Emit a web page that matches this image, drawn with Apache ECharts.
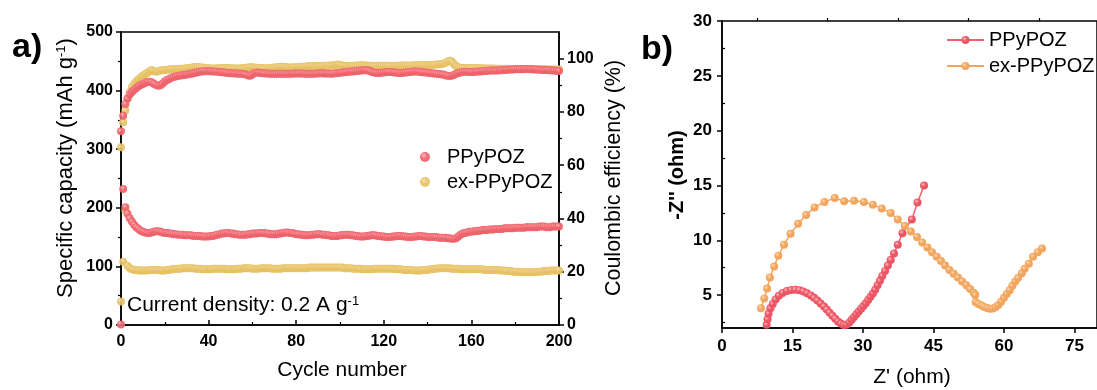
<!DOCTYPE html>
<html><head><meta charset="utf-8">
<script src="https://cdn.jsdelivr.net/npm/echarts@6/dist/echarts.min.js"></script>
<style>html,body{margin:0;padding:0;background:#fff}#c{width:1097px;height:390px}</style>
</head><body><div id="c"></div>
<script>
// ---- Panel a: cycling (index = cycle number 0..200) ----
const capPPy = [1,232,201,190,182,176,171,167,164,161,159,158,157,157,158,159,160,160,159,158,157,
157,156,156,155,155,154,154,154,153,153,
153,153,152,152,152,152,151,151,151,151,
152,152,153,154,155,156,156,157,157,156,
156,155,155,154,154,154,154,155,155,156,
156,156,157,157,157,156,156,155,155,155,
155,156,156,157,158,158,157,157,156,155,
155,154,154,153,153,153,154,154,155,155,
155,154,154,153,153,152,152,152,152,153,
153,154,154,154,153,153,152,152,151,151,
151,152,152,153,153,153,152,152,151,151,
150,150,150,151,151,152,152,152,151,151,
150,150,150,151,151,152,152,151,151,150,
150,150,150,150,149,149,149,149,148,148,
147,147,148,151,154,156,157,158,159,159,
160,160,161,161,162,162,162,163,163,163,
164,164,164,164,165,165,165,165,165,166,
166,166,166,166,167,167,167,167,167,167,
168,168,168,167,167,167,168,168,168,168];
const capEx = [40,108,196,101,97,95,94,94,93,93,93,
93,93,94,94,94,94,94,93,93,93,
94,94,95,95,96,96,96,97,97,97,
97,97,97,96,96,96,95,95,95,95,
95,96,96,96,96,96,96,95,95,95,
95,95,96,96,96,97,97,97,97,96,
96,96,96,97,97,97,97,97,96,96,
96,96,96,97,97,97,97,97,97,97,
97,97,97,97,97,98,98,98,98,98,
98,98,98,98,98,98,98,98,98,98,
98,97,97,97,97,96,96,96,96,95,
95,95,95,95,95,96,96,96,96,96,
96,96,96,96,95,95,95,95,94,94,
94,94,94,93,93,93,93,94,94,94,
95,95,96,96,97,97,97,97,97,97,
96,96,96,96,95,95,95,95,95,95,
95,95,95,95,95,94,94,94,94,94,
94,94,93,93,93,92,92,92,91,91,
91,90,90,90,90,90,90,90,90,91,
91,91,92,92,92,93,93,93,93,93];
const cePPy = [72.7,78.6,83,85,86.5,87.5,88.3,89,89.6,90.1,90.5,
90.9,91.2,91.3,91.1,90.6,90.1,89.8,90.0,90.7,91.4,
92.0,92.4,92.8,93.1,93.3,93.5,93.7,93.8,93.9,94.0,
94.1,94.3,94.5,94.7,94.9,95.1,95.2,95.3,95.3,95.3,
95.3,95.2,95.2,95.1,95.0,94.9,94.8,94.7,94.6,94.5,
94.5,94.4,94.4,94.3,94.3,94.2,94.0,93.7,93.6,94.0,
94.6,94.8,94.7,94.6,94.5,94.4,94.4,94.3,94.3,94.3,
94.3,94.3,94.3,94.3,94.3,94.3,94.3,94.3,94.4,94.4,
94.4,94.4,94.4,94.3,94.3,94.3,94.3,94.3,94.4,94.4,
94.5,94.5,94.4,94.4,94.4,94.3,94.4,94.5,94.6,94.7,
94.8,94.9,95.0,95.1,95.2,95.2,95.3,95.4,95.5,95.5,
95.6,95.6,95.5,95.2,94.9,94.7,94.6,94.6,94.7,94.8,
94.9,95.0,95.0,94.9,94.8,94.7,94.6,94.6,94.7,94.8,
94.9,95.0,95.1,95.2,95.2,95.1,95.0,94.9,94.8,94.7,
94.6,94.5,94.4,94.3,94.2,94.1,94.0,93.8,93.6,93.5,
93.6,93.9,94.3,94.6,94.8,95.0,95.1,95.1,95.0,95.0,
95.0,95.1,95.2,95.2,95.3,95.4,95.4,95.5,95.5,95.5,
95.5,95.5,95.6,95.6,95.7,95.8,95.8,95.9,95.9,96.0,
96.0,96.0,96.0,96.0,96.1,96.1,96.0,96.0,95.9,95.9,
95.8,95.8,95.7,95.7,95.6,95.6,95.5,95.5,95.4,95.4];
const ceEx = [66.7,76.1,80.5,84.9,87.5,89.3,90.5,91.5,92.3,93.0,93.6,
94.1,94.6,95.3,95.7,95.3,95.1,95.3,95.5,95.6,95.7,
95.8,95.9,96.0,96.0,96.1,96.1,96.2,96.2,96.3,96.4,
96.5,96.6,96.8,96.9,96.9,96.8,96.7,96.6,96.5,96.4,
96.3,96.3,96.3,96.4,96.4,96.5,96.5,96.5,96.4,96.4,
96.4,96.3,96.3,96.3,96.4,96.5,96.6,96.7,96.8,96.8,
96.7,96.6,96.5,96.5,96.4,96.4,96.4,96.5,96.6,96.7,
96.8,96.9,97.0,97.0,96.9,96.8,96.7,96.7,96.8,96.8,
96.9,97.0,97.0,97.0,97.1,97.1,97.1,97.2,97.2,97.2,
97.2,97.3,97.3,97.3,97.4,97.4,97.5,97.6,97.8,97.6,
97.4,97.3,97.2,97.2,97.2,97.3,97.3,97.4,97.5,97.5,
97.5,97.4,97.3,97.3,97.2,97.2,97.2,97.3,97.3,97.3,
97.3,97.3,97.2,97.2,97.2,97.3,97.3,97.4,97.4,97.4,
97.4,97.4,97.4,97.5,97.5,97.5,97.5,97.5,97.5,97.6,
97.6,97.6,97.7,97.8,97.8,97.9,98.1,98.4,98.8,99.2,
98.9,98.0,97.2,96.8,96.6,96.5,96.5,96.5,96.5,96.5,
96.5,96.5,96.4,96.4,96.4,96.3,96.3,96.3,96.3,96.3,
96.2,96.2,96.2,96.2,96.2,96.2,96.2,96.1,96.1,96.1,
96.1,96.1,96.1,96.1,96.1,96.1,96.0,96.0,96.0,96.0,
96.0,96.0,96.0,96.0,95.9,95.9,95.9,95.9,95.9,95.9];
const ceTicks = [0,20,40,60,80,100];
const ceMinor = [10,30,50,70,90];

// ---- Panel b: Nyquist plot ----
const eisPPy = [[9.5,2.3],[9.7,2.8],[9.9,3.3],[10.3,3.8],[10.8,4.2],[11.4,4.6],[12.1,4.95],[12.9,5.2],[13.8,5.38],[14.7,5.47],[15.6,5.5],[16.5,5.45],[17.3,5.33],[18.1,5.17],[18.9,4.97],[19.6,4.75],[20.3,4.5],[21,4.24],[21.7,3.96],[22.3,3.68],[22.9,3.4],[23.5,3.12],[24.1,2.85],[24.7,2.6],[25.3,2.4],[25.9,2.27],[26.5,2.3],[27.1,2.5],[27.6,2.75],[28.1,3.0],[28.6,3.25],[29.1,3.5],[29.6,3.75],[30.1,4.0],[30.6,4.25],[31.1,4.55],[31.6,4.85],[32.1,5.15],[32.6,5.5],[33.1,5.9],[33.6,6.3],[34.1,6.75],[34.7,7.2],[35.3,7.7],[35.9,8.2],[36.6,8.8],[37.4,9.6],[38.4,10.65],[40.4,11.9],[41.6,13.45],[43,15.0]];
const eisEx = [[8.3,3.8],[9.0,4.7],[9.6,5.6],[10.2,6.6],[11.1,7.6],[12.0,8.6],[13.2,9.6],[14.6,10.6],[16.2,11.5],[17.9,12.3],[19.7,13.0],[21.8,13.5],[24.0,13.85],[26.0,13.55],[28.1,13.6],[30.2,13.5],[32.1,13.25],[34.0,12.9],[35.9,12.5],[37.4,11.9],[38.9,11.3],[40.2,10.8],[41.5,10.3],[42.6,9.8],[43.7,9.35],[44.7,8.9],[45.7,8.5],[46.6,8.1],[47.5,7.7],[48.4,7.3],[49.3,6.95],[50.2,6.6],[51.1,6.25],[52.0,5.9],[52.8,5.55],[53.6,5.2],[53.9,5.0],[54.0,4.35],[54.6,4.2],[55.2,4.05],[55.8,3.92],[56.4,3.82],[57.0,3.75],[57.6,3.78],[58.2,3.9],[58.8,4.1],[59.4,4.4],[60.0,4.75],[60.6,5.1],[61.2,5.45],[61.8,5.85],[62.4,6.25],[63.0,6.55],[63.8,7.0],[64.4,7.4],[65.3,7.85],[66.2,8.5],[67.2,8.9],[68.1,9.25]];
const zReTicks = [0,15,30,45,60,75];
const zReMinor = [7.5,22.5,37.5,52.5,67.5];
const zImTicks = [5,10,15,20,25,30];
const zImMinor = [2.5,7.5,12.5,17.5,22.5,27.5];

const FF = '"Liberation Sans", Arial, sans-serif';
const RED = '#ef626b', YEL = '#e7c264', ORG = '#f2a55c';
function ball(c0, c1){return {type:'radial',x:0.38,y:0.35,r:0.7,colorStops:[{offset:0,color:c0},{offset:0.45,color:c1},{offset:1,color:c1}]};}
const redBall = ball('#fbb8bb', RED), yelBall = ball('#f6e2ae', YEL);
const ax = {lineStyle:{color:'#000',width:1.5}};
const lab = (sz)=>({color:'#000',fontFamily:FF,fontWeight:'bold',fontSize:sz});
const idx = a => a.map((v,i)=>[i,v]);

const chart = echarts.init(document.getElementById('c'), null, {renderer:'canvas'});
chart.setOption({
  animation:false,
  textStyle:{fontFamily:FF},
  grid:[
    {left:121, top:32, width:438, height:293, show:true, borderColor:'#000', borderWidth:1.5},
    {left:722, top:21, right:-5, height:307, show:true, borderColor:'#000', borderWidth:1.5}
  ],
  xAxis:[
    {gridIndex:0,type:'value',min:0,max:200,interval:40,axisLine:ax,
     axisTick:{inside:true,length:5,lineStyle:{color:'#000',width:1.5}},
     minorTick:{show:true,splitNumber:2,length:3,lineStyle:{color:'#000',width:1.2}},
     axisLabel:Object.assign(lab(16),{margin:9}),splitLine:{show:false}},
    {gridIndex:1,type:'value',min:0,max:79.8,axisLine:ax,
     axisTick:{length:5,customValues:zReTicks,lineStyle:{color:'#000',width:1.5}},
     axisLabel:Object.assign(lab(17),{margin:10,customValues:zReTicks}),splitLine:{show:false}},
    {gridIndex:1,type:'value',min:0,max:79.8,axisLine:{show:false},
     axisTick:{length:3,customValues:zReMinor,lineStyle:{color:'#000',width:1.2}},
     axisLabel:{show:false},splitLine:{show:false}}
  ],
  yAxis:[
    {gridIndex:0,type:'value',min:0,max:500,interval:100,axisLine:Object.assign({show:true},ax),
     axisTick:{length:5,lineStyle:{color:'#000',width:1.5}},
     minorTick:{show:true,splitNumber:2,length:3,lineStyle:{color:'#000',width:1.2}},
     axisLabel:Object.assign(lab(16),{margin:8}),splitLine:{show:false}},
    {gridIndex:0,type:'value',position:'right',min:0,max:110,axisLine:Object.assign({show:true},ax),
     axisTick:{length:5,customValues:ceTicks,lineStyle:{color:'#000',width:1.5}},
     axisLabel:Object.assign(lab(16),{margin:8,customValues:ceTicks}),splitLine:{show:false}},
    {gridIndex:0,type:'value',position:'right',min:0,max:110,axisLine:{show:false},
     axisTick:{length:3,customValues:ceMinor,lineStyle:{color:'#000',width:1.2}},
     axisLabel:{show:false},splitLine:{show:false}},
    {gridIndex:1,type:'value',min:2,max:30,axisLine:Object.assign({show:true},ax),
     axisTick:{length:5,customValues:zImTicks,lineStyle:{color:'#000',width:1.5}},
     axisLabel:Object.assign(lab(17),{margin:10,customValues:zImTicks}),splitLine:{show:false}},
    {gridIndex:1,type:'value',min:2,max:30,axisLine:{show:false},
     axisTick:{length:3,customValues:zImMinor,lineStyle:{color:'#000',width:1.2}},
     axisLabel:{show:false},splitLine:{show:false}}
  ],
  legend:[
    {data:['PPyPOZ','ex-PPyPOZ'],orient:'vertical',left:420,top:147,padding:0,itemWidth:10,itemHeight:10,itemGap:5,
     textStyle:{fontFamily:FF,fontSize:20,color:'#000',padding:[0,0,0,12]}},
    {data:['PPyPOZ ','ex-PPyPOZ '],orient:'vertical',left:946,top:30,padding:0,itemWidth:37,itemHeight:10,itemGap:6,
     textStyle:{fontFamily:FF,fontSize:20,color:'#000'}}
  ],
  series:[
    {name:'ex-PPyPOZ',type:'scatter',xAxisIndex:0,yAxisIndex:0,symbolSize:8,itemStyle:{color:yelBall,opacity:0.92},data:idx(capEx)},
    {name:'PPyPOZ',type:'scatter',xAxisIndex:0,yAxisIndex:0,symbolSize:8,itemStyle:{color:redBall,opacity:0.92},data:idx(capPPy)},
    {name:'ex-PPyPOZ',type:'scatter',xAxisIndex:0,yAxisIndex:1,symbolSize:8,itemStyle:{color:yelBall,opacity:0.92},data:idx(ceEx)},
    {name:'PPyPOZ',type:'scatter',xAxisIndex:0,yAxisIndex:1,symbolSize:8,itemStyle:{color:redBall,opacity:0.92},data:idx(cePPy)},
    {name:'PPyPOZ ',type:'line',xAxisIndex:1,yAxisIndex:3,symbol:'circle',symbolSize:8,showAllSymbol:true,
     lineStyle:{color:RED,width:1.5},itemStyle:{color:ball('#fbb8bb','#ec5563')},data:eisPPy},
    {name:'ex-PPyPOZ ',type:'line',xAxisIndex:1,yAxisIndex:3,symbol:'circle',symbolSize:8,showAllSymbol:true,
     lineStyle:{color:ORG,width:1.5},itemStyle:{color:ball('#fcd9b4',ORG)},data:eisEx}
  ],
  graphic:[
    {type:'text',x:12,y:48,style:{text:'a)',font:'bold 34px '+FF,fill:'#000',textVerticalAlign:'middle',verticalAlign:'middle'}},
    {type:'text',x:641,y:50,style:{text:'b)',font:'bold 34px '+FF,fill:'#000',textVerticalAlign:'middle',verticalAlign:'middle'}},
    {type:'text',x:66,y:168,rotation:Math.PI/2,style:{text:'Specific capacity (mAh g{s|-1})',font:'22px '+FF,fill:'#000',
      textAlign:'center',align:'center',textVerticalAlign:'middle',verticalAlign:'middle',rich:{s:{fontSize:13,fontFamily:FF,verticalAlign:'top'}}}},
    {type:'text',x:614,y:178,rotation:Math.PI/2,style:{text:'Coulombic efficiency (%)',font:'21.5px '+FF,fill:'#000',
      textAlign:'center',align:'center',textVerticalAlign:'middle',verticalAlign:'middle'}},
    {type:'text',x:342,y:370,style:{text:'Cycle number',font:'21px '+FF,fill:'#000',
      textAlign:'center',align:'center',textVerticalAlign:'middle',verticalAlign:'middle'}},
    {type:'text',x:127,y:305,style:{text:'Current density: 0.2 A g{s|-1}',font:'21px '+FF,fill:'#000',
      textVerticalAlign:'middle',verticalAlign:'middle',rich:{s:{fontSize:13,fontFamily:FF,verticalAlign:'top'}}}},
    {type:'text',x:677,y:175,rotation:Math.PI/2,style:{text:"-Z'' (ohm)",font:'bold 20px '+FF,fill:'#000',
      textAlign:'center',align:'center',textVerticalAlign:'middle',verticalAlign:'middle'}},
    {type:'text',x:912,y:377,style:{text:"Z' (ohm)",font:'21px '+FF,fill:'#000',
      textAlign:'center',align:'center',textVerticalAlign:'middle',verticalAlign:'middle'}}
  ]
});
</script></body></html>
